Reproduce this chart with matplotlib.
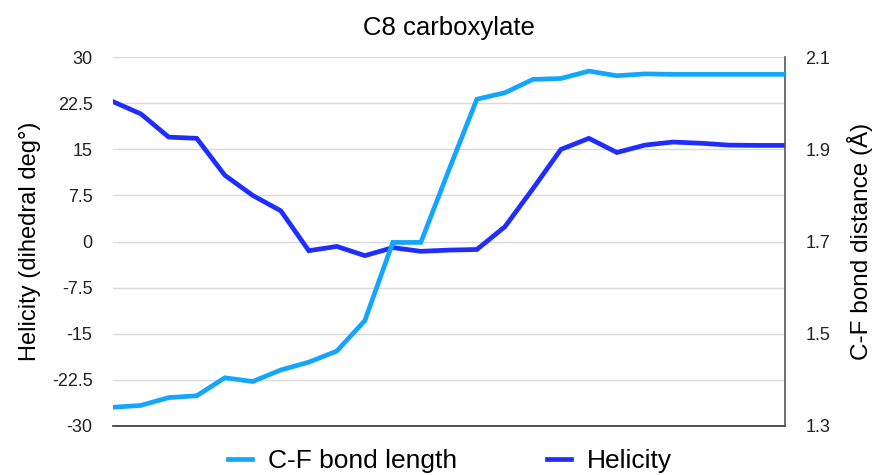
import numpy as np
import matplotlib.pyplot as plt
from matplotlib.lines import Line2D

plt.rcParams['font.family'] = ['Liberation Sans', 'DejaVu Sans']

# frame index along the scan (no x labels on the chart)
frames = np.arange(25)

helicity = [22.8, 20.8, 17.0, 16.8, 10.8, 7.5, 5.0, -1.5, -0.8, -2.3, -1.0, -1.6,
            -1.4, -1.3, 2.4, 8.6, 15.0, 16.8, 14.5, 15.7, 16.2, 16.0, 15.7, 15.65, 15.65]

cf_bond = [1.340, 1.344, 1.361, 1.365, 1.404, 1.396, 1.421, 1.438, 1.462, 1.528, 1.698, 1.698,
           1.855, 2.009, 2.023, 2.052, 2.054, 2.070, 2.060, 2.064, 2.063, 2.063, 2.063, 2.063, 2.063]

left_ticks = [-30, -22.5, -15, -7.5, 0, 7.5, 15, 22.5, 30]
left_labels = ["-30", "-22.5", "-15", "-7.5", "0", "7.5", "15", "22.5", "30"]
right_ticks = [1.3, 1.5, 1.7, 1.9, 2.1]

light = "#14a5ff"
dark = "#1f2eff"

fig = plt.figure(figsize=(8.73, 4.75), dpi=100)
ax = fig.add_axes([112.7 / 873, 1 - 425.7 / 475, (785 - 112.7) / 873, (425.7 - 57.3) / 475])
ax2 = ax.twinx()

ax.plot(frames, helicity, color=dark, lw=3.4, solid_joinstyle="miter", zorder=3)
ax2.plot(frames, cf_bond, color=light, lw=3.4, solid_joinstyle="miter", zorder=3)

ax.set_xlim(0, 24)
ax.set_ylim(-30, 30)
ax2.set_ylim(1.3, 2.1)
ax.set_yticks(left_ticks)
ax.set_yticklabels(left_labels)
ax2.set_yticks(right_ticks)
ax.set_xticks([])

ax.grid(axis="y", color="#d9d9d9", lw=1)
ax.set_axisbelow(True)
for a in (ax, ax2):
    for s in ("top", "left", "bottom", "right"):
        a.spines[s].set_visible(False)
    a.tick_params(axis="y", length=0, labelsize=13, colors="#222222")
ax.tick_params(axis="y", pad=14.5)
ax2.tick_params(axis="y", pad=14.5)
ax2.spines["right"].set_visible(True)
ax2.spines["right"].set_color("#555555")
ax2.spines["right"].set_linewidth(1.2)
ax.spines["bottom"].set_visible(True)
ax.spines["bottom"].set_color("#333333")
ax.spines["bottom"].set_linewidth(1.2)

ax.set_ylabel("Helicity (dihedral deg°)", fontsize=17, labelpad=8)
ax2.set_ylabel("C-F bond distance (Å)", fontsize=17.5, labelpad=12)
ax.set_title("C8 carboxylate", fontsize=18.5, pad=16)

handles = [Line2D([], [], color=light, lw=3.4), Line2D([], [], color=dark, lw=3.4)]
fig.legend(handles, ["C-F bond length", "Helicity"], loc="center", bbox_to_anchor=(0.5155, 0.03),
           ncol=2, frameon=False, fontsize=19, handlelength=0.9, columnspacing=3.4,
           handletextpad=0.6, borderpad=0, borderaxespad=0)

fig.savefig("out.png", dpi=100)
